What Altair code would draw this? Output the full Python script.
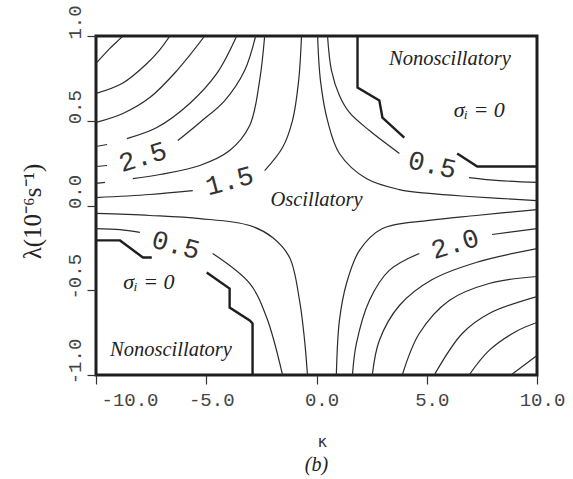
import altair as alt
import pandas as pd

# ---------------- contour pieces (kappa, lambda) ----------------
# upper-left family, sigma_i = 4.5 ... 1.5 (corner -> centre)
ul45_k = [-8.78, -9.10, -9.37, -10.0]
ul45_l = [1.0, 0.96, 0.927, 0.838]
ul40_k = [-6.65, -7.10, -7.69, -8.78, -10.0]
ul40_l = [1.0, 0.92, 0.838, 0.723, 0.661]
ul35_k = [-5.07, -6.33, -7.56, -8.78, -10.0]
ul35_l = [1.0, 0.796, 0.637, 0.543, 0.49]
ul30a_k = [-3.62, -4.52, -5.75, -7.24, -8.60]
ul30a_l = [1.0, 0.779, 0.602, 0.46, 0.395]
ul30b_k = [-9.50, -10.0]
ul30b_l = [0.36, 0.348]
ul25a_k = [-2.76, -3.26, -4.16, -5.29, -6.29]
ul25a_l = [1.0, 0.796, 0.619, 0.49, 0.383]
ul25b_k = [-9.50, -10.0]
ul25b_l = [0.236, 0.230]
ul20a_k = [-2.35, -2.58, -3.03, -3.94, -5.29, -7.10, -8.33]
ul20a_l = [1.0, 0.737, 0.472, 0.324, 0.236, 0.183, 0.159]
ul20b_k = [-9.59, -10.0]
ul20b_l = [0.136, 0.130]
ul15a_k = [-10.0, -7.56, -5.61]
ul15a_l = [0.047, 0.065, 0.088]
ul15b_k = [-2.35, -1.54, -1.09, -0.81, -0.68]
ul15b_l = [0.206, 0.342, 0.501, 0.737, 1.0]

# upper-right family
ur10_k = [0.05, 0.18, 0.50, 1.04, 2.26, 3.76, 5.11, 6.92, 10.0]
ur10_l = [1.0, 0.737, 0.501, 0.307, 0.159, 0.094, 0.071, 0.053, 0.029]
ur05a_k = [0.50, 0.68, 1.04, 1.49, 2.40, 3.76]
ur05a_l = [1.0, 0.796, 0.649, 0.549, 0.442, 0.307]
ur05b_k = [6.92, 8.28, 10.0]
ur05b_l = [0.165, 0.147, 0.136]
ur00a_k = [1.86, 1.86, 2.85, 2.99, 3.98]
ur00a_l = [1.0, 0.696, 0.619, 0.519, 0.401]
ur00b_k = [6.38, 7.29, 10.0]
ur00b_l = [0.307, 0.230, 0.230]

# lower-left family
ll10_k = [-10.0, -7.56, -5.29, -3.03, -1.99, -1.22, -0.77, -0.54, -0.41]
ll10_l = [-0.047, -0.059, -0.077, -0.118, -0.189, -0.307, -0.560, -0.796, -1.0]
ll05a_k = [-10.0, -8.91, -8.01]
ll05a_l = [-0.136, -0.142, -0.159]
ll05b_k = [-4.71, -3.03, -2.26, -1.54]
ll05b_l = [-0.283, -0.460, -0.661, -1.0]
ll00a_k = [-10.0, -8.91, -7.87, -7.47]
ll00a_l = [-0.206, -0.206, -0.307, -0.307]
ll00b_k = [-4.98, -3.94, -3.94, -3.03, -2.90, -2.90]
ll00b_l = [-0.395, -0.490, -0.602, -0.678, -0.696, -1.0]

# lower-right family, sigma_i = 1.5 ... 4.5 (centre -> corner)
lr15_k = [0.90, 1.04, 1.36, 1.95, 2.99, 5.11, 7.24, 10.0]
lr15_l = [-1.0, -0.678, -0.460, -0.265, -0.136, -0.088, -0.059, -0.024]
lr20a_k = [1.63, 1.81, 2.40, 3.30, 4.66]
lr20a_l = [-1.0, -0.814, -0.560, -0.383, -0.283]
lr20b_k = [7.96, 10.0]
lr20b_l = [-0.171, -0.136]
lr25_k = [2.53, 2.85, 3.76, 5.25, 7.24, 10.0]
lr25_l = [-1.0, -0.796, -0.590, -0.437, -0.336, -0.254]
lr30_k = [3.89, 4.66, 6.02, 7.83, 10.0]
lr30_l = [-1.0, -0.755, -0.560, -0.460, -0.419]
lr35_k = [5.34, 6.61, 7.83, 10.0]
lr35_l = [-1.0, -0.755, -0.637, -0.537]
lr40_k = [6.92, 7.83, 9.05, 10.0]
lr40_l = [-1.0, -0.855, -0.743, -0.690]
lr45_k = [8.82, 10.0]
lr45_l = [-1.0, -0.885]

# contour value labels
clab_text = ["2.5", "1.5", "0.5", "0.5", "2.0"]
clab_k = [-7.87, -3.94, 5.25, -6.38, 6.29]
clab_l = [0.283, 0.142, 0.236, -0.236, -0.230]
clab_ang = [343, 345, 13, 15, 343]

# region annotations
ann_text = ["Nonoscillatory", "σᵢ = 0", "Oscillatory", "σᵢ = 0", "Nonoscillatory"]
ann_k = [6.05, 7.38, 0.0, -7.6, -6.6]
ann_l = [0.867, 0.566, 0.03, -0.454, -0.855]
ann_size = [20.5, 22, 20.5, 22, 20.5]

thin_pieces = [
    ("ul45", ul45_k, ul45_l), ("ul40", ul40_k, ul40_l), ("ul35", ul35_k, ul35_l),
    ("ul30a", ul30a_k, ul30a_l), ("ul30b", ul30b_k, ul30b_l),
    ("ul25a", ul25a_k, ul25a_l), ("ul25b", ul25b_k, ul25b_l),
    ("ul20a", ul20a_k, ul20a_l), ("ul20b", ul20b_k, ul20b_l),
    ("ul15a", ul15a_k, ul15a_l), ("ul15b", ul15b_k, ul15b_l),
    ("ur10", ur10_k, ur10_l), ("ur05a", ur05a_k, ur05a_l), ("ur05b", ur05b_k, ur05b_l),
    ("ll10", ll10_k, ll10_l), ("ll05a", ll05a_k, ll05a_l), ("ll05b", ll05b_k, ll05b_l),
    ("lr15", lr15_k, lr15_l), ("lr20a", lr20a_k, lr20a_l), ("lr20b", lr20b_k, lr20b_l),
    ("lr25", lr25_k, lr25_l), ("lr30", lr30_k, lr30_l), ("lr35", lr35_k, lr35_l),
    ("lr40", lr40_k, lr40_l), ("lr45", lr45_k, lr45_l),
]
thick_pieces = [
    ("ur00a", ur00a_k, ur00a_l), ("ur00b", ur00b_k, ur00b_l),
    ("ll00a", ll00a_k, ll00a_l), ("ll00b", ll00b_k, ll00b_l),
]


def to_frame(pieces):
    rows = []
    for name, ks, ls in pieces:
        for i, (k, l) in enumerate(zip(ks, ls)):
            rows.append({"seg": name, "i": i, "k": k, "l": l})
    return pd.DataFrame(rows)


thin_df = to_frame(thin_pieces)
thick_df = to_frame(thick_pieces)
clab_df = pd.DataFrame({"t": clab_text, "k": clab_k, "l": clab_l, "a": clab_ang})
ann_df = pd.DataFrame({"t": ann_text, "k": ann_k, "l": ann_l, "s": ann_size})

xscale = alt.Scale(domain=[-10, 10], nice=False, zero=False)
yscale = alt.Scale(domain=[-1, 1], nice=False, zero=False)

minus_fix = "replace(format(datum.value, '.1f'), '\u2212', '-')"

xaxis = alt.Axis(
    values=[-10, -5, 0, 5, 10], labelExpr=minus_fix, grid=False, domain=False,
    tickSize=9, tickColor="#333", tickWidth=1.2,
    labelFont="Liberation Mono", labelFontSize=19, labelColor="#444",
    labelPadding=6, labelOffset=5, labelFlush=False,
    labelAlign=alt.condition("datum.value == -10", alt.value("left"), alt.value("center")),
    title="κ", titleFont="DejaVu Sans", titleFontSize=16, titleFontWeight="normal",
    titleColor="#333", titleX=226, titleY=66, titleBaseline="middle",
)
yaxis = alt.Axis(
    values=[-1, -0.5, 0, 0.5, 1], labelExpr=minus_fix, grid=False, domain=False,
    tickSize=9, tickColor="#333", tickWidth=1.2,
    labelFont="Liberation Mono", labelFontSize=19, labelColor="#444",
    labelAngle=270, labelAlign="center", labelBaseline="alphabetic",
    labelPadding=7, labelOffset=-14, labelFlush=False,
    title="λ(10⁻⁶s⁻¹)", titleFont="Liberation Serif", titleFontSize=25,
    titleFontWeight="normal", titleColor="#222", titleAngle=270,
    titleX=-64, titleY=175, titleAlign="center", titleBaseline="middle",
)


def X():
    return alt.X("k:Q", scale=xscale, axis=xaxis)


def Y():
    return alt.Y("l:Q", scale=yscale, axis=yaxis)


thin = alt.Chart(thin_df).mark_line(
    interpolate="catmull-rom", color="#2b2b2b", strokeWidth=1.2, clip=True
).encode(x=X(), y=Y(), detail="seg:N", order="i:Q")

thick = alt.Chart(thick_df).mark_line(
    interpolate="linear", color="#1e1e1e", strokeWidth=2.4, clip=True
).encode(x=X(), y=Y(), detail="seg:N", order="i:Q")

clabs = alt.Chart(clab_df).mark_text(
    font="Liberation Mono", fontSize=27, color="#333"
).encode(x=X(), y=Y(), text="t:N", angle=alt.Angle("a:Q", scale=None))

anns = alt.Chart(ann_df).mark_text(
    font="Liberation Serif", fontStyle="italic", color="#222"
).encode(x=X(), y=Y(), text="t:N", size=alt.Size("s:Q", scale=None, legend=None))

chart = alt.layer(thin, thick, clabs, anns).properties(
    width=441, height=339,
    padding={"left": 96, "top": 36, "right": 36, "bottom": 104},
    autosize="none",
    background="white",
    title=alt.TitleParams(
        "(b)", orient="bottom", anchor="middle", frame="group", offset=6,
        font="Liberation Serif", fontStyle="italic", fontSize=20,
        fontWeight="normal", color="#222",
    ),
).configure_view(stroke="#1e1e1e", strokeWidth=3)

chart.save("out.html", embed_options={"renderer": "svg", "actions": False})
